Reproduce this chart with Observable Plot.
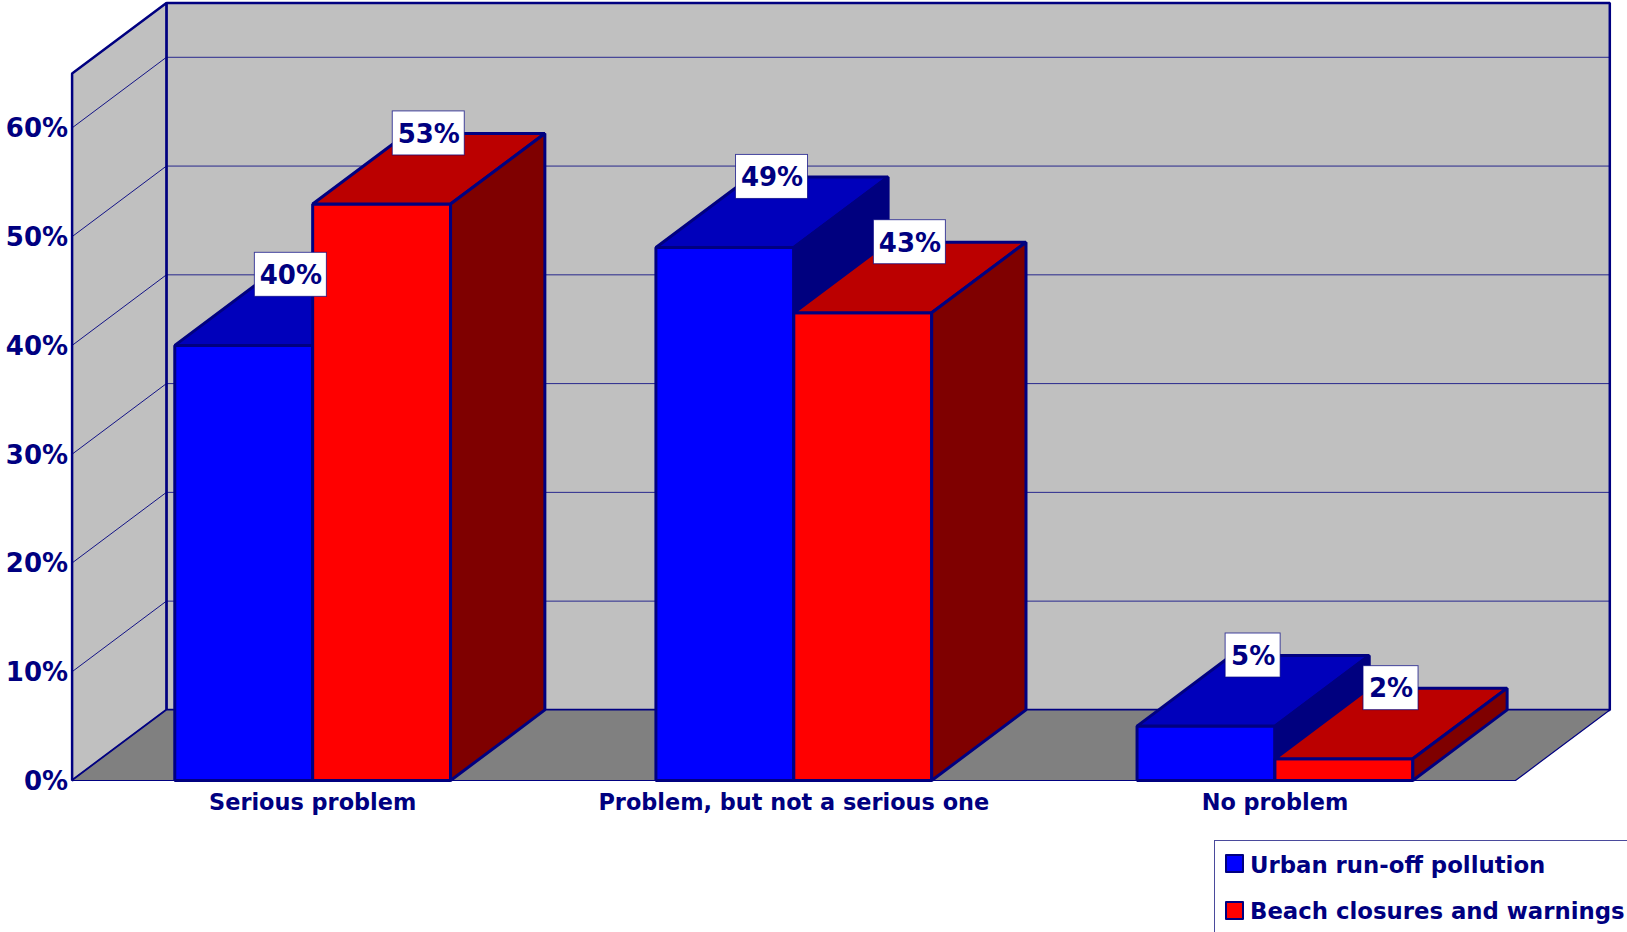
<!DOCTYPE html>
<html><head><meta charset="utf-8">
<script src="https://cdn.jsdelivr.net/npm/d3@7"></script>
<script src="https://cdn.jsdelivr.net/npm/@observablehq/plot@0.6"></script>
<style>
html,body{margin:0;padding:0;background:#fff;overflow:hidden;width:1627px;height:932px}
#chart svg{display:block}
#legend{position:absolute;left:1214px;top:840px;width:420px;height:100px;border:1px solid #4a4a9c;box-sizing:border-box;font:bold 22.8px "DejaVu Sans",sans-serif;color:#000080}
#legend div{position:absolute;left:35px;white-space:nowrap;line-height:28px}
#legend i{position:absolute;left:-25px;top:5px;width:15px;height:15px;border:2.5px solid #000080;border-radius:1px;box-sizing:content-box}
</style></head><body>
<div id="chart"></div>
<div id="legend"></div>
<script>
const categories = ["Serious problem", "Problem, but not a serious one", "No problem"];
const urban = [40, 49, 5];
const beach = [53, 43, 2];
const seriesNames = ["Urban run-off pollution", "Beach closures and warnings"];
const yTicks = [0, 10, 20, 30, 40, 50, 60];

const navy = "#000080";
const font = '"DejaVu Sans", sans-serif';
const barW = 0.2866, dX = 0.196, dY = 6.49, yMax = 65;
const pxX = 481.2, pxY = 10.875; // pixels per unit, for the value-label boxes only

const poly = (pts, fill, strokeWidth = 3) => Plot.line(pts.map(([x, y]) => ({x, y})), {
  x: "x", y: "y", fill, stroke: navy, strokeWidth, curve: "linear-closed", strokeLinejoin: "miter"
});
const box = (x0, x1, v, front, top, side) => [
  poly([[x0, 0], [x1, 0], [x1, v], [x0, v]], front),
  poly([[x0, v], [x1, v], [x1 + dX, v + dY], [x0 + dX, v + dY]], top),
  poly([[x1, 0], [x1 + dX, dY], [x1 + dX, v + dY], [x1, v]], side)
];

const bars = categories.flatMap((_, i) => {
  const c = i + 0.5;
  return [
    ...box(c - barW, c, urban[i], "#0000ff", "#0000bb", "#00007f"),
    ...box(c, c + barW, beach[i], "#ff0000", "#bb0000", "#7f0000")
  ];
});

const labels = categories.flatMap((_, i) => [
  {x: i + 0.5 - barW / 2 + dX / 2, y: urban[i] + dY, t: urban[i] + "%"},
  {x: i + 0.5 + barW / 2 + dX / 2, y: beach[i] + dY, t: beach[i] + "%"}
]);
const halfW = d => (d.t.length > 2 ? 36 : 27.5) / pxX;
const halfH = 22 / pxY;

const plot = Plot.plot({
  width: 1627, height: 832,
  marginLeft: 71.6, marginRight: 112, marginTop: 73, marginBottom: 52,
  x: {domain: [0, 3], axis: null},
  y: {domain: [0, yMax], axis: null},
  style: {fontFamily: font, background: "#fff", overflow: "visible"},
  marks: [
    // back wall, side wall, floor
    poly([[dX, dY], [3 + dX, dY], [3 + dX, yMax + dY], [dX, yMax + dY]], "#c0c0c0", 2.5),
    poly([[0, 0], [dX, dY], [dX, yMax + dY], [0, yMax]], "#c0c0c0", 2.5),
    poly([[0, 0], [3, 0], [3 + dX, dY], [dX, dY]], "#808080", 1.2),
    Plot.link(yTicks.slice(1), {x1: dX, x2: 3 + dX, y1: d => d + dY, y2: d => d + dY, stroke: navy, strokeWidth: 1, strokeOpacity: 0.8}),
    Plot.link(yTicks.slice(1), {x1: 0, x2: dX, y1: d => d, y2: d => d + dY, stroke: navy, strokeWidth: 1, strokeOpacity: 0.9}),
    ...bars,
    Plot.rect(labels, {
      x1: d => d.x - halfW(d), x2: d => d.x + halfW(d),
      y1: d => d.y - halfH, y2: d => d.y + halfH,
      fill: "#fff", stroke: navy, strokeWidth: 1, strokeOpacity: 0.7
    }),
    Plot.text(labels, {x: "x", y: "y", text: "t", fill: navy, fontSize: 26, fontWeight: "bold", dy: 1}),
    Plot.axisY(yTicks, {
      anchor: "left", tickSize: 0, tickPadding: 4, tickFormat: d => d + "%",
      fontSize: 26, fontWeight: "bold", fill: navy, label: null, dy: 1
    }),
    Plot.axisX([0.5, 1.5, 2.5], {
      anchor: "bottom", tickSize: 0, tickPadding: 14, tickFormat: d => categories[d - 0.5],
      fontSize: 22.4, fontWeight: "bold", fill: navy, label: null
    })
  ]
});
document.getElementById("chart").append(plot);

const legend = document.getElementById("legend");
[["#0000ff", 10], ["#ff0000", 56]].forEach(([c, top], i) => {
  const row = document.createElement("div");
  row.style.top = top + "px";
  row.innerHTML = `<i style="background:${c};top:${i ? 4 : 3}px"></i>${seriesNames[i]}`;
  legend.append(row);
});
</script></body></html>
